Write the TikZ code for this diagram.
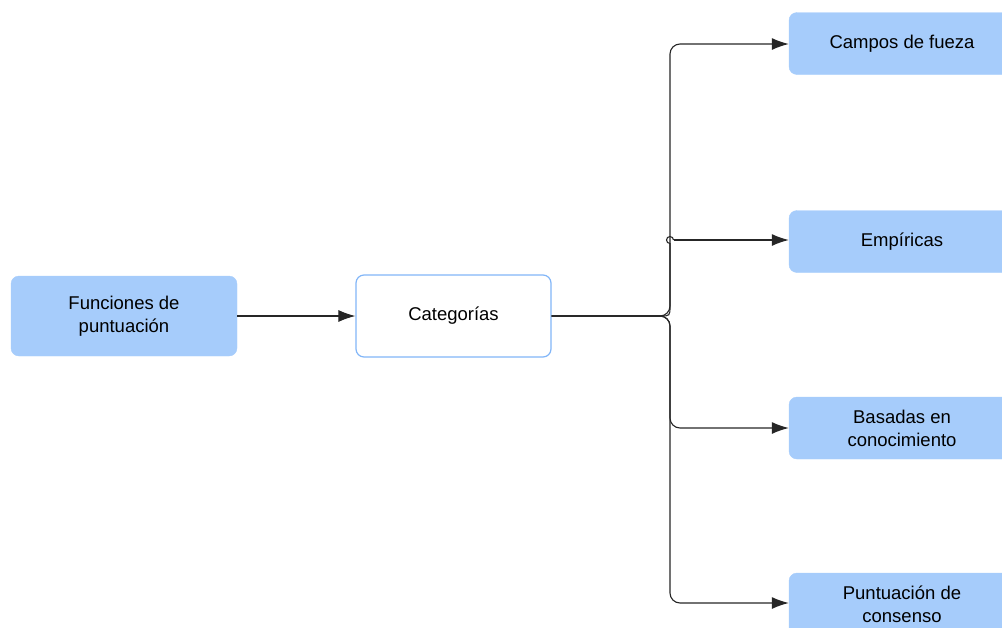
\documentclass[tikz,border=0pt]{standalone}
\usepackage{fontspec}
\setmainfont{Liberation Sans}
\usetikzlibrary{arrows.meta}
\definecolor{boxblue}{HTML}{A6CCFB}
\definecolor{edgeblue}{HTML}{82B6F8}
\begin{document}
\begin{tikzpicture}[x=1pt,y=-1pt,
  every node/.style={font=\fontsize{18.5}{23}\selectfont, align=center, inner sep=0pt},
  filledbox/.style={fill=boxblue, draw=boxblue, rounded corners=8pt, minimum width=226pt, minimum height=62pt},
  outlinebox/.style={fill=white, draw=edgeblue, line width=1.2pt, rounded corners=8pt, minimum width=195pt, minimum height=82pt},
  wire/.style={draw=black!85, line width=1.1pt},
  link/.style={wire, -{Latex[length=17pt,width=12pt]}},
  branch/.style={link, rounded corners=10pt}]
\useasboundingbox (0,0) rectangle (1002,627);
\clip (0,0) rectangle (1002,627);

\node[filledbox, minimum width=226pt, minimum height=80pt] (src) at (124,316) {Funciones de\\puntuación};
\node[outlinebox] (cat) at (453.5,316) {Categorías};

\node[filledbox] (campos) at (902,43.5) {Campos de fueza};
\node[filledbox] (emp) at (902,241.5) {Empíricas};
\node[filledbox] (bas) at (902,428) {Basadas en\\conocimiento};
\node[filledbox] (pun) at (902,604) {Puntuación de\\consenso};

\coordinate (fork) at (670,316);

\draw[link] (src.east) -- (cat.west);

\draw[branch] (cat.east) -- (fork) -- (670,44) -- (campos.west |- 0,44);
\draw[branch] (cat.east) -- (fork) -- (670,428) -- (bas.west |- 0,428);
\draw[branch] (cat.east) -- (fork) -- (670,603) -- (pun.west |- 0,603);
% Empíricas branch, with a small hop where it leaves the trunk
\draw[wire] (cat.east) -- (660,316) .. controls (670,316) .. (670,306) -- (670,243.5)
  arc[start angle=90, end angle=360, radius=3.5] coordinate (hop);
\draw[link] (hop) -- (emp.west |- hop);
\end{tikzpicture}
\end{document}
